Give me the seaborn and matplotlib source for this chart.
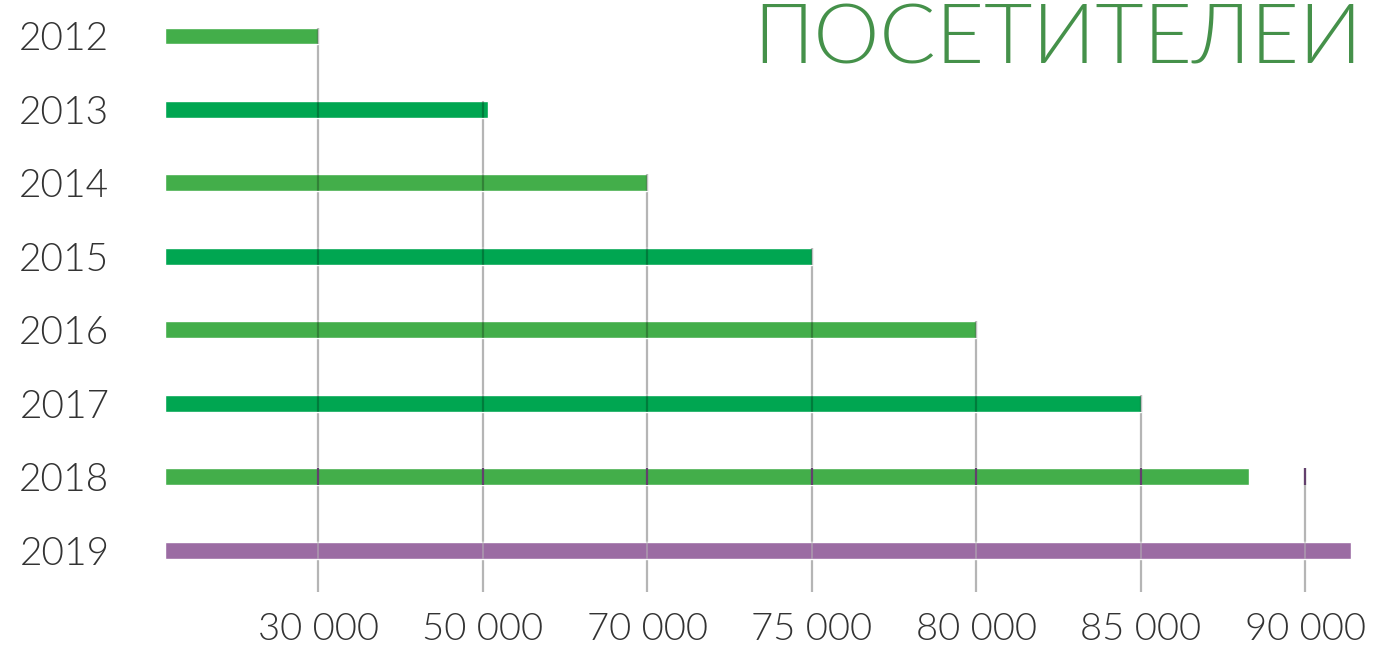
import matplotlib
matplotlib.use('Agg')
import matplotlib.pyplot as plt
import seaborn as sns
import numpy as np
import pandas as pd

# данные
years = ['2012', '2013', '2014', '2015', '2016', '2017', '2018', '2019']
visitors = [30000, 50700, 70000, 75000, 80000, 85000, 88300, 91400]
bar_colors = ['#43AE4A', '#00A651', '#43AE4A', '#00A651', '#43AE4A',
              '#00A651', '#43AE4A', '#9B6CA3']
tick_values = [30000, 50000, 70000, 75000, 80000, 85000, 90000]
tick_labels = ['30 000', '50 000', '70 000', '75 000', '80 000', '85 000', '90 000']
title = 'ПОСЕТИТЕЛЕЙ'

sns.set_style('white')
plt.rcParams['font.family'] = ['Lato', 'DejaVu Sans']
plt.rcParams['font.weight'] = 300

df = pd.DataFrame({'year': years, 'visitors': visitors})

fig = plt.figure(figsize=(13.76, 6.48), dpi=100)
ax = fig.add_axes([165 / 1376, 1 - 592 / 648, 1 - 165 / 1376, 592 / 648])

sns.barplot(data=df, x='visitors', y='year', hue='year', palette=bar_colors,
            orient='h', width=0.23, legend=False, ax=ax, zorder=2,
            saturation=1)

# неравномерная шкала: подписи стоят на равных расстояниях
knot_vals = [0] + tick_values + [100000]
knot_pos = [0.07] + list(range(1, 8)) + [9]


def fwd(v):
    return np.interp(v, knot_vals, knot_pos)


def inv(p):
    return np.interp(p, knot_pos, knot_vals)


ax.set_xscale('function', functions=(fwd, inv))
ax.set_xlim(0, 92150)
ax.set_ylim(7.57, -0.49)

# вертикальные линии от конца столбца вниз
half = 0.115
for k, tv in enumerate(tick_values):
    ax.vlines(tv, k - half, 7.57, color='#B5B5B5', lw=1.6, zorder=1)
    for i in range(k, len(years)):
        if i == 6:
            ax.vlines(tv, i - half, i + half, color='#63406D', lw=1.6, zorder=3)
        elif i == 7:
            ax.vlines(tv, i - half, i + half, color='#B5B5B5', lw=1.2,
                      alpha=0.6, zorder=3)
        elif tv <= visitors[i]:
            ax.vlines(tv, i - half, i + half, color='black', lw=1.6,
                      alpha=0.25, zorder=3)

ax.set_xticks(tick_values)
ax.set_xticklabels(tick_labels)
ax.xaxis.set_minor_locator(matplotlib.ticker.NullLocator())
ax.tick_params(axis='x', length=0, pad=15, labelsize=27.5, labelcolor='#333333')
ax.tick_params(axis='y', length=0, pad=40, labelsize=28, labelcolor='#333333')
for lbl in ax.get_xticklabels() + ax.get_yticklabels():
    lbl.set_fontweight(300)
ax.set_xlabel('')
ax.set_ylabel('')
sns.despine(ax=ax, left=True, bottom=True)

fig.text(1362 / 1376, 1 - 63 / 648, title, ha='right', va='baseline',
         fontsize=60, color='#45914A', fontweight=300)

fig.savefig('out.png', dpi=100)
